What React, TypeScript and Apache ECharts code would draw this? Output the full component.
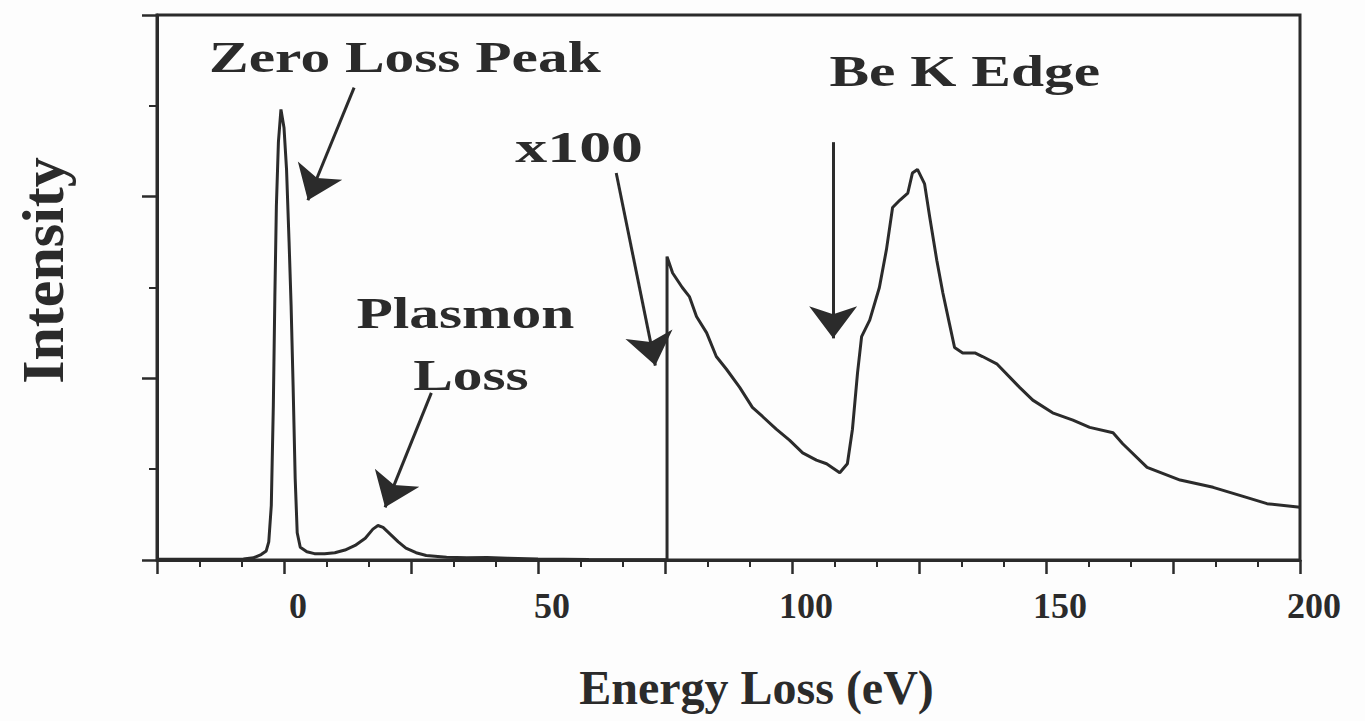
import React, { useEffect, useRef } from "react";
import * as echarts from "echarts";

// Energy loss (eV) and intensity (arb. units)
const energy = [
  -25, -15, -8, -6, -4.5, -3.5, -3, -2.5, -2.1, -1.8, -1.5, -1.1, -0.6, 0, 0.5, 1, 1.4, 1.8, 2.2, 2.6,
  3.2, 4.5, 6, 8, 10, 12, 14, 16, 17.5, 18.5, 19.5, 21, 22.5, 24, 26, 28, 32, 36, 40, 44, 50, 60, 70,
  75.4, 75.4, 76.5, 78.4, 79.8, 81.2, 83.2, 85.1, 87.1, 89.7, 92.2, 94.2, 96.9, 99.5, 102.1, 104.8,
  106.8, 109.4, 110.9, 111.9, 112.9, 113.7, 115.3, 117.2, 118.6, 119.8, 121.2, 122.8, 123.7, 124.7,
  126.1, 127.1, 128.5, 129.7, 131.0, 132.0, 133.6, 136.0, 137.5, 140.3, 144.8, 147.4, 151.3, 155.3,
  158.6, 163.2, 165.1, 169.9, 176.4, 182.9, 188.8, 193.5, 200,
];
const intensity = [
  0.004, 0.004, 0.006, 0.012, 0.03, 0.05, 0.1, 0.3, 0.85, 1.45, 1.95, 2.3, 2.48, 2.38, 2.15, 1.75, 1.4,
  0.95, 0.45, 0.15, 0.07, 0.045, 0.035, 0.035, 0.04, 0.055, 0.08, 0.12, 0.17, 0.19, 0.18, 0.14, 0.1,
  0.065, 0.04, 0.025, 0.015, 0.012, 0.014, 0.01, 0.005, 0.003, 0.002,
  0.002, 1.67, 1.58, 1.5, 1.45, 1.34, 1.25, 1.12, 1.05, 0.95, 0.84, 0.79, 0.72, 0.66, 0.59, 0.55,
  0.53, 0.48, 0.53, 0.72, 1.03, 1.23, 1.32, 1.5, 1.71, 1.94, 1.98, 2.02, 2.13, 2.15,
  2.07, 1.89, 1.65, 1.47, 1.3, 1.17, 1.14, 1.14, 1.12, 1.08, 0.95, 0.88, 0.81, 0.77,
  0.73, 0.7, 0.64, 0.51, 0.44, 0.4, 0.35, 0.31, 0.29,
];

const xTickLabels = [0, 50, 100, 150, 200];

// Annotation labels, anchored in data coordinates (eV, intensity)
const annotationTexts = ["Zero Loss Peak", "Plasmon", "Loss", "x100", "Be K Edge"];
const annotationE = [23.8, 35.7, 36.8, 58.1, 134.0];
const annotationI = [2.77, 1.36, 1.02, 2.27, 2.69];

// Arrows (from -> to), in data coordinates
const arrowFromE = [13.8, 29.0, 65.4, 108.1];
const arrowFromI = [2.6, 0.92, 2.13, 2.3];
const arrowToE = [4.7, 19.9, 73.1, 108.1];
const arrowToI = [1.98, 0.29, 1.07, 1.22];

const INK = "#2b2b2b";
const SERIF = '"Liberation Serif", "DejaVu Serif", serif';

export default function App() {
  const ref = useRef<HTMLDivElement>(null);

  useEffect(() => {
    if (!ref.current) return;
    const chart = echarts.init(ref.current, undefined, { renderer: "svg" });

    const option: any = {
      animation: false,
      backgroundColor: "#fdfdfd",
      grid: {
        left: 157,
        right: 65,
        top: 15,
        bottom: 161,
        show: true,
        borderColor: INK,
        borderWidth: 3,
        backgroundColor: "transparent",
      },
      xAxis: {
        type: "value",
        min: -25,
        max: 200,
        interval: 25,
        axisLine: { show: true, onZero: false, lineStyle: { color: INK, width: 3 } },
        axisTick: { show: true, inside: false, length: 14, lineStyle: { color: INK, width: 2.5 } },
        minorTick: { show: true, splitNumber: 3, length: 7, lineStyle: { color: INK, width: 2 } },
        splitLine: { show: false },
        minorSplitLine: { show: false },
        axisLabel: {
          formatter: (v: number) => (xTickLabels.includes(v) ? String(v) : ""),
          fontFamily: SERIF,
          fontWeight: "bold",
          fontSize: 36,
          color: INK,
          margin: 28,
          padding: [0, 0, 0, 28],
        },
        name: "Energy Loss (eV)",
        nameLocation: "middle",
        nameGap: 103,
        nameTextStyle: {
          fontFamily: SERIF,
          fontWeight: "bold",
          fontSize: 48,
          color: INK,
          padding: [0, 0, 0, 56],
        },
      },
      yAxis: {
        type: "value",
        min: 0,
        max: 3,
        interval: 1,
        axisLine: { show: true, onZero: false, lineStyle: { color: INK, width: 3 } },
        axisTick: { show: true, inside: false, length: 15, lineStyle: { color: INK, width: 2.5 } },
        minorTick: { show: true, splitNumber: 2, length: 8, lineStyle: { color: INK, width: 2 } },
        splitLine: { show: false },
        minorSplitLine: { show: false },
        axisLabel: { show: false },
        name: "Intensity",
        nameLocation: "middle",
        nameRotate: 90,
        nameGap: 84,
        nameTextStyle: {
          fontFamily: SERIF,
          fontWeight: "bold",
          fontSize: 60,
          color: INK,
          padding: [0, 0, 0, 34],
        },
      },
      series: [
        {
          type: "line",
          data: energy.map((e, i) => [e, intensity[i]]),
          showSymbol: false,
          symbol: "none",
          lineStyle: { color: INK, width: 3 },
          silent: true,
          markLine: {
            silent: true,
            symbol: ["none", "arrow"],
            symbolSize: [36, 32],
            label: { show: false },
            emphasis: { disabled: true },
            lineStyle: { color: INK, width: 3, type: "solid" },
            data: arrowFromE.map((e, i) => [
              { coord: [e, arrowFromI[i]] },
              { coord: [arrowToE[i], arrowToI[i]] },
            ]),
          },
        },
      ],
    };

    chart.setOption(option);

    const graphics = annotationTexts.map((t, i) => {
      const p = chart.convertToPixel({ gridIndex: 0 }, [annotationE[i], annotationI[i]]) as number[];
      return {
        type: "text",
        x: p[0],
        y: p[1],
        scaleX: t === "x100" ? 1.45 : 1.35,
        silent: true,
        style: {
          text: t,
          font: `bold 44px ${SERIF}`,
          fill: INK,
          align: "center",
          verticalAlign: "middle",
        },
      };
    });
    chart.setOption({ graphic: graphics });

    return () => chart.dispose();
  }, []);

  return (
    <div
      ref={ref}
      style={{ position: "fixed", left: 0, top: 0, width: 1365, height: 721 }}
    />
  );
}
